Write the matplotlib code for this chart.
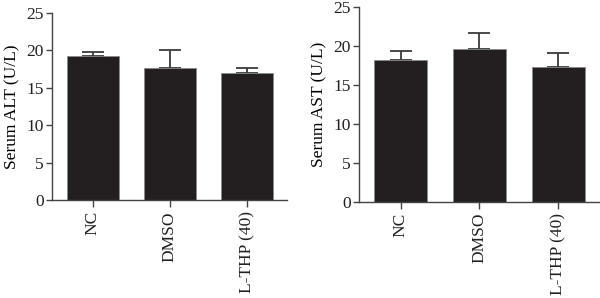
import matplotlib
matplotlib.use("Agg")
import matplotlib.pyplot as plt
from matplotlib import font_manager

categories = ["NC", "DMSO", "L-THP (40)"]
alt_mean = [19.2, 17.6, 16.95]
alt_err = [0.6, 2.5, 0.75]
ast_mean = [18.2, 19.7, 17.3]
ast_err = [1.2, 2.0, 1.8]
yticks = [0, 5, 10, 15, 20, 25]

plt.rcParams['font.family'] = 'serif'
plt.rcParams['font.serif'] = ['Liberation Serif']
FS = 12.5
print(font_manager.findfont('Liberation Serif'))

fig = plt.figure(figsize=(6, 2.98), dpi=100)
ax1 = fig.add_axes([52/600, 98/298, 235/600, 187/298])
ax2 = fig.add_axes([359/600, 96.3/298, 240/600, 194.4/298])

def draw(ax, means, errs, ylabel):
    x = list(range(len(categories)))
    ax.bar(x, means, width=0.675, color='#231f20', edgecolor='#8a8a8a', linewidth=0.6, zorder=2)
    ax.errorbar(x, means, yerr=[[0]*len(errs), errs], fmt='none', ecolor='#3a3a3a',
                elinewidth=1.3, capsize=8, capthick=1.3, zorder=1)
    ax.set_xlim(-0.53, 2.52)
    ax.set_ylim(0, 25)
    ax.set_yticks(yticks)
    ax.set_xticks(x)
    ax.set_xticklabels(categories, rotation=90, fontsize=FS)
    ax.tick_params(axis='y', labelsize=FS, length=4, width=1, pad=2)
    ax.tick_params(axis='x', length=5, width=1, pad=3)
    for s in ['top', 'right']:
        ax.spines[s].set_visible(False)
    for s in ['left', 'bottom']:
        ax.spines[s].set_color('#444444')
        ax.spines[s].set_linewidth(1)
    ax.tick_params(colors='#444444', labelcolor='#231f20')
    ax.set_ylabel(ylabel, fontsize=FS, labelpad=4)

draw(ax1, alt_mean, alt_err, "Serum ALT (U/L)")
draw(ax2, ast_mean, ast_err, "Serum AST (U/L)")

fig.savefig("out.png", dpi=100)
